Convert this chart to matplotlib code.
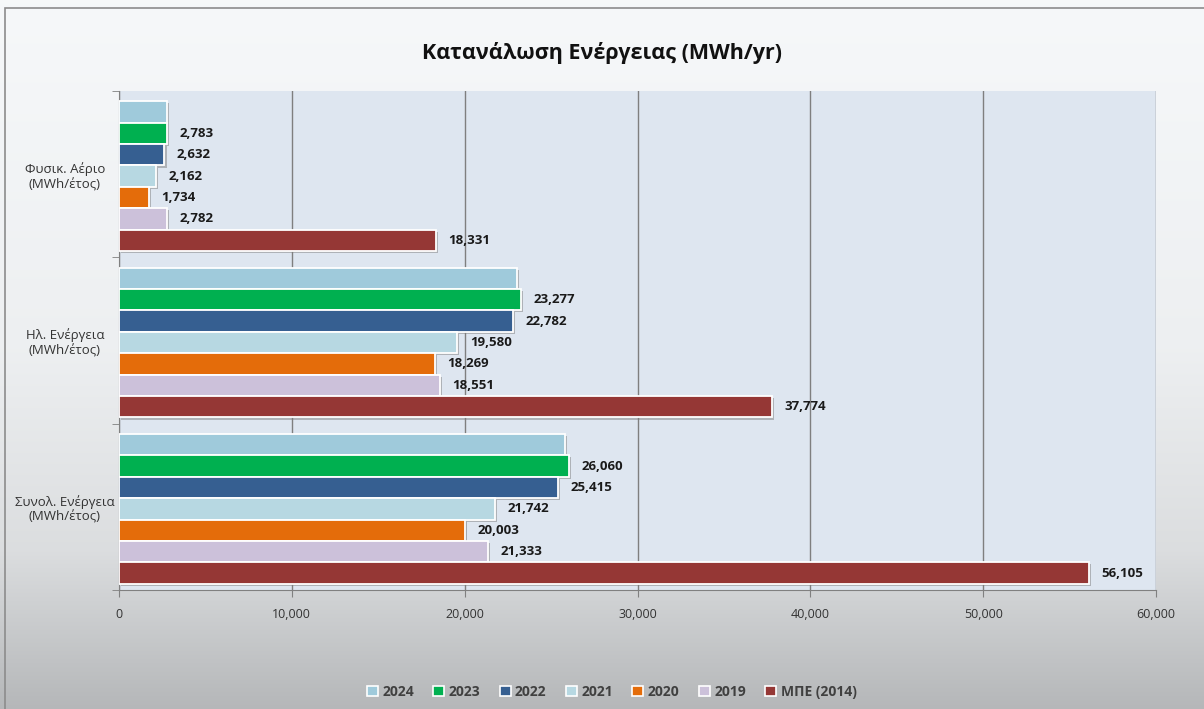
import numpy as np
import matplotlib
matplotlib.use("Agg")
import matplotlib.pyplot as plt
import matplotlib.patheffects as pe
from matplotlib.patches import Rectangle, Patch
from matplotlib.ticker import FuncFormatter, FixedLocator

plt.rcParams['font.family'] = ['Open Sans', 'DejaVu Sans']

# data
categories = ["Φυσικ. Αέριο\n(MWh/έτος)", "Ηλ. Ενέργεια\n(MWh/έτος)", "Συνολ. Ενέργεια\n(MWh/έτος)"]
series_names = ["2024", "2023", "2022", "2021", "2020", "2019", "ΜΠΕ (2014)"]
v2024 = [2760, 23040, 25800]
v2023 = [2783, 23277, 26060]
v2022 = [2632, 22782, 25415]
v2021 = [2162, 19580, 21742]
v2020 = [1734, 18269, 20003]
v2019 = [2782, 18551, 21333]
v2014 = [18331, 37774, 56105]
values = [v2024, v2023, v2022, v2021, v2020, v2019, v2014]
show_label = [False, True, True, True, True, True, True]
colors = ["#9fcadb", "#00b050", "#365f91", "#b7d8e2", "#e46c0a", "#ccc1da", "#953735"]

fig = plt.figure(figsize=(12.04, 7.09), dpi=100)

# background gradient
bg = fig.add_axes([0, 0, 1, 1], zorder=-10)
g = np.concatenate([np.linspace(0.965, 0.93, 350), np.linspace(0.93, 0.86, 200), np.linspace(0.86, 0.71, 159)])
img = np.stack([g, g + 0.008, g + 0.015], axis=-1).clip(0, 1)[:, None, :].repeat(2, axis=1)
bg.imshow(img, aspect='auto', extent=[0, 1, 0, 1], origin='upper')
bg.add_patch(Rectangle((0.004, -0.01), 1.0, 0.999, transform=bg.transAxes, fill=False,
                       edgecolor="#8c8c8c", lw=1.2))
bg.set_xlim(0, 1); bg.set_ylim(0, 1)
bg.axis('off')

ax = fig.add_axes([119/1204, 1 - 590/709, (1156 - 119)/1204, (590 - 91)/709])
ax.set_facecolor("#dee6f0")

n = len(series_names)
h = 0.1287
y = np.arange(len(categories))
shadow = [pe.SimplePatchShadow(offset=(1.5, -1.5), shadow_rgbFace="#7f7f7f", alpha=0.5), pe.Normal()]
for i, (name, vals, col) in enumerate(zip(series_names, values, colors)):
    pos = y + 0.012 + (i - (n - 1) / 2) * h
    bars = ax.barh(pos, vals, height=h, color=col, edgecolor="white", lw=1.3, label=name, zorder=3)
    for b in bars:
        b.set_path_effects(shadow)
    if show_label[i]:
        for p, v in zip(pos, vals):
            ax.annotate(f"{v:,}", (v, p), xytext=(9, 0), textcoords="offset points",
                        va='center', ha='left', fontsize=9.5, fontweight='bold', color="#1a1a1a", zorder=4)

ax.set_xlim(0, 60000)
ax.set_ylim(2.5, -0.5)
ax.set_xticks(np.arange(0, 60001, 10000))
ax.xaxis.set_major_formatter(FuncFormatter(lambda v, p: f"{int(v):,}"))
ax.tick_params(axis='x', length=5, color="#808080", labelsize=9, labelcolor="#333333", pad=8)
ax.grid(axis='x', color="#7f7f7f", lw=1, zorder=1)
ax.set_axisbelow(True)

ax.set_yticks(y)
ax.set_yticklabels(categories, fontsize=9.5, color="#333333", ha='center')
ax.tick_params(axis='y', which='major', length=0, pad=39)
ax.yaxis.set_minor_locator(FixedLocator([-0.5, 0.5, 1.5, 2.5]))
ax.tick_params(axis='y', which='minor', length=5, color="#808080")

for s in ['top', 'right']:
    ax.spines[s].set_visible(False)
for s in ['left', 'bottom']:
    ax.spines[s].set_color("#808080")

fig.text(0.5, 1 - 53/709, "Κατανάλωση Ενέργειας (MWh/yr)", ha='center', va='center',
         fontsize=15.5, fontweight='bold', color="#111111")

handles = [Patch(facecolor=c, edgecolor="white", lw=1.2) for c in colors]
fig.legend(handles, series_names, loc='center', bbox_to_anchor=(0.508, 1 - 692/709), ncol=n,
           frameon=False, handlelength=0.8, handleheight=0.8, handletextpad=0.3,
           columnspacing=1.4, labelcolor="#404040", prop={'weight': 'bold', 'size': 10})

fig.savefig("out.png", dpi=100)
